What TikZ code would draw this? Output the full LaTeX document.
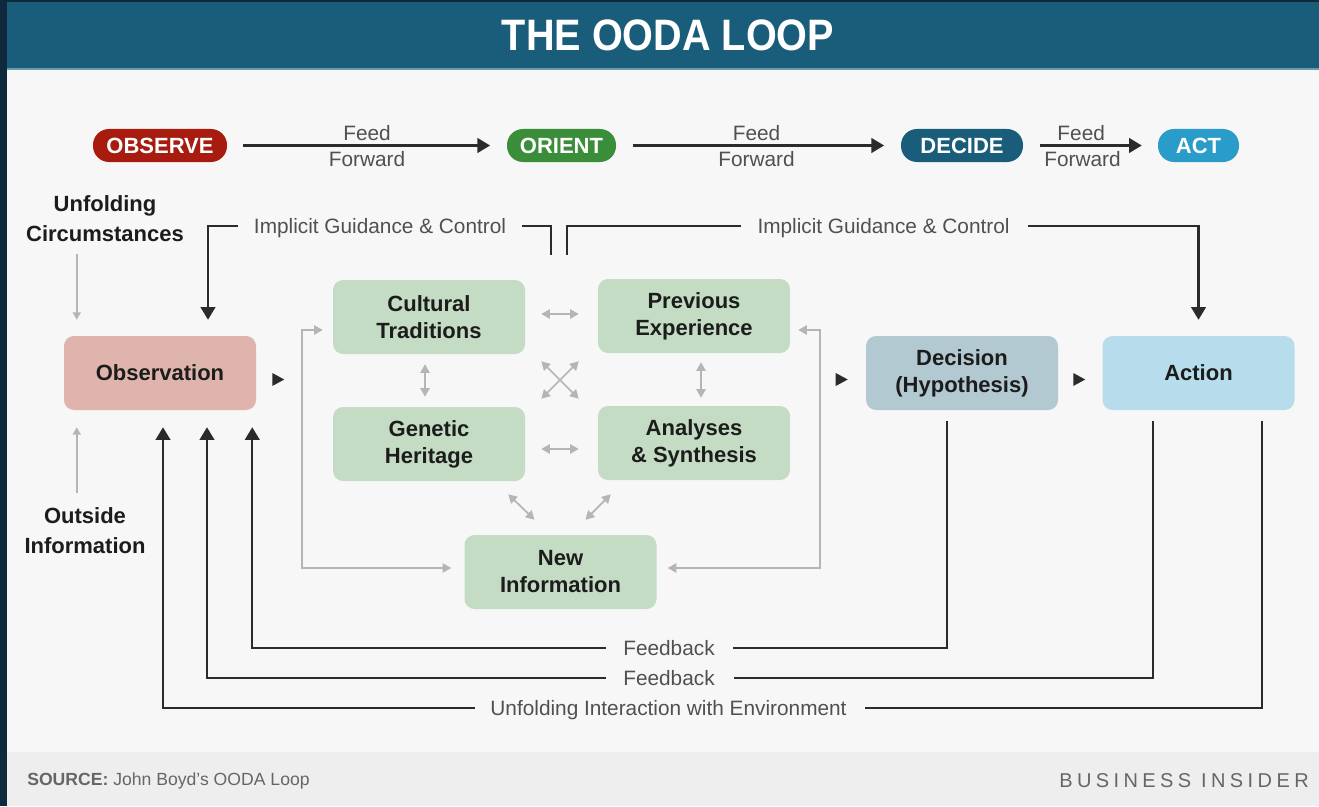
\documentclass[tikz,border=0pt]{standalone}
\usepackage{fontspec}
\setmainfont{Liberation Sans}
\newfontfamily\titlefont[FakeStretch=0.9]{Liberation Sans}
\newfontfamily\bifont[LetterSpace=22]{Liberation Sans}
\usetikzlibrary{arrows.meta,calc}

\definecolor{navy}{HTML}{0F2A3C}
\definecolor{banner}{HTML}{1A5D7B}
\definecolor{banneredge}{HTML}{6E98AB}
\definecolor{paper}{HTML}{F7F7F7}
\definecolor{footbg}{HTML}{EEEEEE}
\definecolor{obsred}{HTML}{A81C10}
\definecolor{orgreen}{HTML}{3A8E3A}
\definecolor{decblue}{HTML}{1A5D7B}
\definecolor{actblue}{HTML}{2A9CC9}
\definecolor{obsfill}{HTML}{DEB4AD}
\definecolor{orifill}{HTML}{C3DCC3}
\definecolor{decfill}{HTML}{B3C9D2}
\definecolor{actfill}{HTML}{B7DCEC}
\definecolor{ink}{HTML}{1C1C1C}
\definecolor{labgray}{HTML}{505050}
\definecolor{linek}{HTML}{2B2B2B}
\definecolor{lgray}{HTML}{B5B5B5}
\definecolor{footgray}{HTML}{666666}

\begin{document}
\begin{tikzpicture}[x=0.75pt,y=-0.75pt,
  pill/.style={rounded corners=12pt, inner sep=0pt, minimum height=24.75pt,
    text=white, font=\fontsize{16.5}{18}\selectfont\bfseries},
  stagebox/.style={rounded corners=7.5pt, inner sep=0pt, minimum width=144pt,
    minimum height=55.5pt, align=center, text=ink,
    font=\fontsize{16.5}{20.25}\selectfont\bfseries},
  lbl/.style={inner sep=0pt, text depth=0pt, text=labgray,
    font=\fontsize{15.6}{18}\selectfont},
  sidelbl/.style={inner sep=0pt, align=center, text=ink,
    font=\fontsize{16.5}{22.5}\selectfont\bfseries},
  blk/.style={draw=linek, line width=1.6pt},
  blkarr/.style={blk, -{Triangle[length=9.5pt,width=11pt]}},
  grayarr/.style={draw=lgray, line width=1.2pt, -{Triangle[length=5.5pt,width=6pt]}},
  graydd/.style={draw=lgray, line width=1.3pt,
    {Triangle[length=6.5pt,width=7pt]}-{Triangle[length=6.5pt,width=7pt]}}
]
\useasboundingbox (0,0) rectangle (1319,806);

% frame, banner, page and footer
\fill[navy] (0,0) rectangle (1319,806);
\fill[banner] (7,2) rectangle (1319,68);
\fill[banneredge] (7,68) rectangle (1319,70);
\fill[paper] (7,70) rectangle (1319,752);
\fill[footbg] (7,752) rectangle (1319,806);

\node[text=white, inner sep=0pt, font=\titlefont\fontsize{33}{36}\selectfont\bfseries]
  (title) at (668,35) {THE OODA LOOP};

% phase pills
\node[pill, fill=obsred, minimum width=100.5pt] (observe) at (160,145.5) {OBSERVE};
\node[pill, fill=orgreen, minimum width=81.75pt] (orient) at (561.5,145.5) {ORIENT};
\node[pill, fill=decblue, minimum width=91.5pt] (decide) at (962,145.5) {DECIDE};
\node[pill, fill=actblue, minimum width=60.75pt] (act) at (1198.5,145.5) {ACT};

\draw[blkarr, shorten <=12pt, shorten >=12.5pt] (observe) -- (orient)
  node[lbl, midway, yshift=9.75pt] {Feed}
  node[lbl, midway, yshift=-9.75pt] {Forward};
\draw[blkarr, shorten <=12.5pt, shorten >=12.5pt] (orient) -- (decide)
  node[lbl, midway, yshift=9.75pt, xshift=-1.5pt] {Feed}
  node[lbl, midway, yshift=-9.75pt, xshift=-1.5pt] {Forward};
\draw[blkarr, shorten <=12.5pt, shorten >=12pt] (decide) -- (act)
  node[lbl, midway, yshift=9.75pt, xshift=-7pt] {Feed}
  node[lbl, midway, yshift=-9.75pt, xshift=-6pt] {Forward};

% main stages
\node[stagebox, fill=obsfill] (obs) at (160,373) {Observation};
\node[stagebox, fill=decfill] (dec) at (962,373) {Decision\\(Hypothesis)};
\node[stagebox, fill=actfill] (actn) at (1198.5,373) {Action};

% orientation cluster
\node[stagebox, fill=orifill] (ct) at (429,317) {Cultural\\Traditions};
\node[stagebox, fill=orifill] (pe) at (694,316) {Previous\\Experience};
\node[stagebox, fill=orifill] (gh) at (429,444) {Genetic\\Heritage};
\node[stagebox, fill=orifill] (as) at (694,443) {Analyses\\\& Synthesis};
\node[stagebox, fill=orifill] (ni) at (560.5,572) {New\\Information};

% side inputs
\node[sidelbl] (uc) at (105,219) {Unfolding\\Circumstances};
\node[sidelbl] (oi) at (85,531) {Outside\\Information};
\draw[grayarr] ($(obs.north west)+(13,-82)$) -- ($(obs.north west)+(13,-16)$);
\draw[grayarr] ($(obs.south west)+(13,83)$) -- ($(obs.south west)+(13,17)$);

% implicit guidance and control
\node[lbl] (igc1) at (380,226) {Implicit Guidance \& Control};
\node[lbl] (igc2) at (883.5,226) {Implicit Guidance \& Control};
\coordinate (jl) at (551,255);
\coordinate (jr) at (567,255);
\draw[blkarr, shorten >=12pt] ($(igc1.west)+(-16,0)$) -| ($(obs.north)+(48,0)$);
\draw[blk] ($(igc1.east)+(16,0)$) -| (jl);
\draw[blk] (jr) |- ($(igc2.west)+(-16,0)$);
\draw[blkarr, shorten >=12pt] ($(igc2.east)+(18,0)$) -| (actn.north);

% flow marks between the stages
\fill[linek] ($(obs.east)+(16,0)$) -- ($(obs.east)+(28,6.5)$) -- ($(obs.east)+(16,13)$) -- cycle;
\fill[linek] ($(dec.west)+(-30,0)$) -- ($(dec.west)+(-18,6.5)$) -- ($(dec.west)+(-30,13)$) -- cycle;
\fill[linek] ($(actn.west)+(-29,0)$) -- ($(actn.west)+(-17,6.5)$) -- ($(actn.west)+(-29,13)$) -- cycle;

% links inside the orientation cluster
\draw[graydd] ($(ct.east)+(16,-3)$) -- ($(pe.west)+(-19,-2)$);
\draw[graydd] ($(gh.east)+(16,5)$) -- ($(as.west)+(-19,6)$);
\draw[graydd] ($(ct.south)+(-4,10)$) -- ($(gh.north)+(-4,-10)$);
\draw[graydd] ($(pe.south)+(7,9)$) -- ($(as.north)+(7,-8)$);
\draw[graydd] ($(ct.south east)+(16,7)$) -- ($(as.north west)+(-19,-7)$);
\draw[graydd] ($(pe.south west)+(-19,8)$) -- ($(gh.north east)+(16,-8)$);
\draw[graydd] ($(gh.south east)+(-17,13)$) -- ($(ni.north)+(-26,-15)$);
\draw[graydd] ($(as.south west)+(13,14)$) -- ($(ni.north)+(25,-15)$);
\draw[graydd] ($(ct.west)+(-10,13)$) -- ++(-21,0) |- ($(ni.west)+(-13,-4)$);
\draw[graydd] ($(pe.east)+(8,14)$) -- ++(22,0) |- ($(ni.east)+(11,-4)$);

% feedback loops
\node[lbl] (fb1) at (669,648) {Feedback};
\node[lbl] (fb2) at (669,678) {Feedback};
\node[lbl] (env) at (668.5,708) {Unfolding Interaction with Environment};
\draw[blk] ($(dec.south)+(-15,11)$) |- ($(fb1.east)+(18,0)$);
\draw[blkarr, shorten >=12.75pt] ($(fb1.west)+(-17,0)$) -| ($(obs.south east)+(-4,0)$);
\draw[blk] ($(actn.south)+(-45.5,11)$) |- ($(fb2.east)+(19,0)$);
\draw[blkarr, shorten >=12.75pt] ($(fb2.west)+(-17,0)$) -| ($(obs.south)+(47,0)$);
\draw[blk] ($(actn.south)+(63.5,11)$) |- ($(env.east)+(18,0)$);
\draw[blkarr, shorten >=12.75pt] ($(env.west)+(-15,0)$) -| ($(obs.south)+(3,0)$);

% footer
\node[anchor=west, inner sep=0pt, text=footgray, font=\fontsize{13.2}{15}\selectfont]
  (src) at (27,781) {\textbf{SOURCE:} John Boyd’s OODA Loop};
\node[inner sep=0pt, text=footgray, font=\bifont\fontsize{15}{17}\selectfont]
  (bi) at (1184,781) {BUSINESS INSIDER};
\end{tikzpicture}
\end{document}
